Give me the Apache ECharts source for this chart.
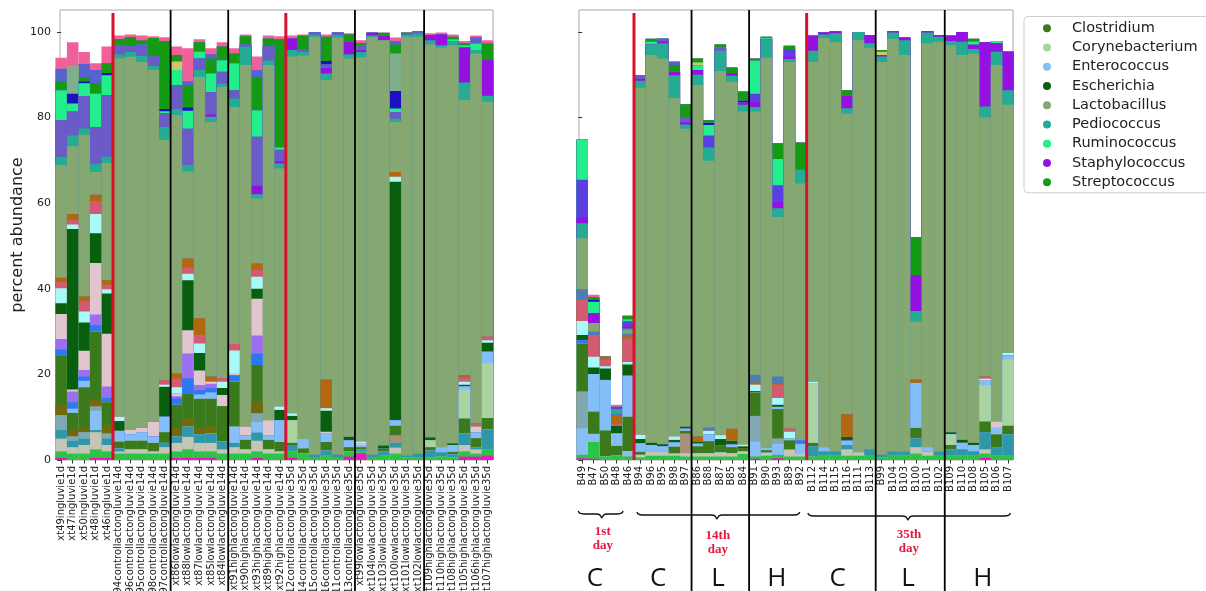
<!DOCTYPE html>
<html>
<head>
<meta charset="utf-8">
<script src="https://cdn.jsdelivr.net/npm/echarts@6/dist/echarts.min.js"></script>
<style>
  html, body { margin: 0; padding: 0; background: #fff; }
  #chart { width: 1206px; height: 591px; }
</style>
</head>
<body>
<div id="chart"></div>
<script>
// ---- sample names (x categories) ----
const leftNames = ['xt49ingluvie1d','xt47ingluvie1d','xt50ingluvie1d','xt48ingluvie1d','xt46ingluvie1d',
  'xt94controllactongluvie14d','xt96controllactongluvie14d','xt95controllactongluvie14d','xt98controllactongluvie14d','xt97controllactongluvie14d',
  'xt86lowlactongluvie14d','xt88lowlactongluvie14d','xt87lowlactongluvie14d','xt85lowlactongluvie14d','xt84lowlactongluvie14d',
  'xt91highlactongluvie14d','xt90highlactongluvie14d','xt93highlactongluvie14d','xt89highlactongluvie14d','xt92highlactongluvie14d',
  'xt112controllactongluvie35d','xt114controllactongluvie35d','xt115controllactongluvie35d','xt116controllactongluvie35d','xt111controllactongluvie35d','xt113controllactongluvie35d',
  'xt99lowlactongluvie35d','xt104lowlactongluvie35d','xt103lowlactongluvie35d','xt100lowlactongluvie35d','xt101lowlactongluvie35d','xt102lowlactongluvie35d',
  'xt109highlactongluvie35d','xt110highlactongluvie35d','xt108highlactongluvie35d','xt105highlactongluvie35d','xt106highlactongluvie35d','xt107highlactongluvie35d'];
const rightNames = ['B49','B47','B50','B48','B46','B94','B96','B95','B98','B97','B86','B88','B87','B85','B84',
  'B91','B90','B93','B89','B92','B112','B114','B115','B116','B111','B113','B99','B104','B103','B100','B101','B102',
  'B109','B110','B108','B105','B106','B107'];
const yTicks = [0, 20, 40, 60, 80, 100];

// ---- percent abundance per taxon, listed bottom to top of each bar (L = left panel, R = right panel) ----
const magentaL = [.5,0,0,.5,.5, 0,0,0,0,0, .5,.5,.5,.5,0, 0,0,.5,0,0, .5,0,0,0,0,.8, 1.5,0,0,0,0,0, 0,0,0,.8,.8,1];
const magentaR = [.4,.3,0,0,0, 0,0,0,0,0, 0,0,0,0,0, .3,0,.4,0,0, 0,0,0,0,0,0, 0,0,0,0,0,0, 0,0,0,.5,0,0];
const limeL = [1.5,1.5,1.5,2,1.5, 1.5,1.5,1.5,1.5,1.5, 1.5,2,1.5,1.5,1.5, 1.5,1.5,1.5,1.5,1.5, 1.5,1.5,.7,1,.5,1.2, .5,.5,1,1.5,.6,.7, .6,.8,.6,1.2,.7,1.5];
const limeR = [.8,3.9,.8,1,.8, .6,1,1,1,.8, .8,.8,.8,.8,1.4, .5,1,.8,.8,.8, .8,1,1,1,1,1, .6,1,1,1.5,1,1, 1,1,1,1,1,1];
const beigeL = [3,1.5,2,4,1.5, .5,1,1,.5,1.5, 2,2.9,2,2,1, 1.5,1,2.5,1,.5, 0,0,0,0,0,0, 0,0,0,1.4,0,0, 0,0,0,1.5,1,0];
const beigeR = [0,0,0,0,0, .6,1,1,.5,.8, .8,.8,1,.8,.6, 0,.7,0,1.6,.8, 0,0,0,1.5,.8,0, 0,0,0,1.5,1,0, 0,0,0,1,0,0];
const tealBlueL = [2,1.5,1.5,.5,1.5, .7,0,0,0,1, 1.5,2.4,2,2.2,1.8, 1,0,1.9,0,0, 1.5,0,.5,1.2,.7,0, .5,.7,1,1.1,.5,.8, 1.6,1,.7,2.7,.4,4.6];
const tealBlueR = [0,0,0,0,0, 0,0,0,0,0, 0,0,0,0,0, 0,0,0,0,0, 2.4,1,1,1,0,1.5, .6,1,1,2,0,1, 1.5,1.5,1,4,2,5];
const skyL = [0,0,0,4.5,0, 0,0,0,0,0, 0,0,0,0,0, 3.8,0,2.5,0,0, 0,0,0,0,0,0, 0,0,0,0,0,0, 0,0,0,0,0,0];
const skyR = [6.2,1.9,0,0,1.3, 0,0,0,0,0, 0,0,0,0,0, 3.5,0,2.6,0,0, 0,0,0,0,0,0, 0,0,0,0,0,0, 0,0,0,0,0,0];
const grayTealL = [3.5,1,1.5,1,1.2, 0,0,0,0,0, 0,0,0,0,0, 0,0,2,0,0, 0,0,0,0,0,0, 0,0,0,0,0,0, 0,0,0,0,0,0];
const grayTealR = [8.6,0,0,0,0, 0,0,0,0,0, 0,0,0,0,0, 6,0,1.2,0,0, 0,0,0,0,0,0, 0,0,0,0,0,0, 0,0,0,0,0,0];
const tanL = [0,0,0,0,0, 0,0,0,0,0, 0,0,0,0,0, 0,0,0,0,0, 0,0,0,0,0,0, 0,0,0,1.8,0,0, 0,0,0,0,0,0];
const tanR = [0,0,0,0,0, 0,0,0,0,4.6, 0,0,0,0,0, 0,0,0,0,0, 0,0,0,0,0,0, 0,0,0,0,0,0, 0,0,0,0,0,0];
const oliveL = [2.4,1.5,1,1.5,2, 0,0,0,0,0, 2,1.9,1.4,1.6,0, 0,0,2.7,0,0, 0,0,0,0,0,0, 0,0,0,0,0,0, 0,0,0,0,0,0];
const oliveR = [0,0,0,0,0, 0,0,0,0,0, 0,0,0,0,0, 0,0,0,0,0, 0,0,0,0,0,0, 0,0,0,0,0,0, 0,0,0,0,0,0];
const clostridiumL = [11.4,4,9.5,16,5.3, 1.6,2,2,2,2.5, 5.4,5.9,6.9,6.5,8.3, 10.5,2.2,8.6,2.2,2.2, .5,1.2,0,2,0,1, .5,0,.6,2.2,0,0, .8,0,.6,3.5,2.2,2.7];
const clostridiumR = [11.2,5.2,6.1,2.3,8, .7,0,0,1.6,.6, 1.6,2.8,1.5,1.4,.8, 5.5,.6,6.9,2.2,0, .8,0,0,0,0,0, 0,0,0,2.5,0,0, 1,0,0,2.5,3,2];
const corynebacteriumL = [0,0,0,0,0, 0,0,0,0,0, 0,0,0,0,0, 0,0,0,0,0, 5.3,0,0,0,0,0, 0,0,0,0,0,0, 1.6,0,0,6.7,0,12.8];
const corynebacteriumR = [0,0,0,0,0, 0,0,0,0,0, 0,0,0,0,0, 0,0,0,0,0, 14,0,0,0,0,0, 0,0,0,0,0,0, 2.5,0,0,8.5,0,15.5];
const enterococcusL = [0,1,1.5,0,0, 2.5,1.5,2,1.5,3.6, 0,0,1,1.5,0, 0,1,0,1.1,5.1, 0,2.2,0,2.1,0,1.6, .5,0,0,1.3,0,0, 0,1.2,1.6,.8,1.3,2.7];
const enterococcusR = [0,8.8,11.8,2.9,9.6, 2,1.5,1.2,1,.5, .6,1.6,0,.6,0, 0,.6,.5,.5,2.2, 0,1,0,1,0,0, 0,0,0,10.5,1,0, 0,1.5,1.5,1,1.5,1];
const blueL = [1.5,1.5,1,1.5,1, 0,0,0,0,0, 1.5,3.5,1,1,0, 1.5,0,2.7,0,0, 0,0,0,0,0,0, 0,0,0,0,0,0, 0,0,0,0,0,0];
const blueR = [.8,0,0,0,0, 0,0,0,0,0, 0,0,0,0,0, 0,0,0,0,.8, 0,0,0,0,0,0, 0,0,0,0,0,0, 0,0,0,0,0,0];
const lavenderL = [2.5,2.5,1.5,2.5,2.7, 0,0,0,0,0, .5,5.8,1.2,1,0, 0,0,4.2,0,0, 0,0,0,0,0,0, 0,0,0,0,0,0, 0,0,0,0,0,0];
const lavenderR = [0,0,0,0,0, 0,0,0,0,0, 0,0,0,0,0, 0,0,0,0,0, 0,0,0,0,0,0, 0,0,0,0,0,0, 0,0,0,0,0,0];
const mistyL = [5.8,.5,4.5,12,12.3, 0,1,1,3.4,0, .6,5.4,3.4,.5,2.6, .5,2.1,8.6,3.5,0, 0,0,0,.3,0,0, .3,0,0,0,0,0, 0,0,0,0,1.4,0];
const mistyR = [0,0,0,0,0, 0,0,0,0,0, 0,0,0,0,0, 0,0,0,0,0, 0,0,0,0,0,0, 0,0,0,0,0,0, 0,0,0,0,1.5,0];
const escherichiaL = [2.5,37.5,6.6,7,9.4, 2.3,0,0,0,7, 0,11.7,4.1,0,1.6, 0,0,2.3,0,2.4, 1,0,0,4.9,0,.8, 0,0,.8,55.7,0,0, .7,0,.4,.4,0,2.1];
const escherichiaR = [1.2,1.5,2.7,1.8,2.6, 1,.5,.5,.6,.5, .4,0,1.6,.9,.4, .3,0,.5,0,0, 0,0,0,.9,0,0, 0,0,0,0,0,0, .5,.7,.5,0,0,0];
const cyanL = [3.5,1,2.6,4.5,1, 1,0,0,0,.5, 1.5,1.5,2.2,0,1.5, 5.3,0,2.8,0,.8, .6,0,0,.6,0,0, .5,0,0,1.2,0,0, 0,0,0,.7,0,.6];
const cyanR = [3.3,2.5,.5,0,.6, 1,0,0,.8,0, 0,.8,.9,0,.4, 1.5,0,1.6,1.5,0, .3,0,0,0,0,0, 0,0,0,0,0,0, 0,0,0,.5,0,.5];
const roseL = [1.5,1,2.5,3,1, 0,0,0,0,1, 2,1.5,2,0,.8, 1.5,0,1.6,0,0, 0,0,0,0,0,0, 0,0,0,0,0,0, 0,0,0,1,.8,.8];
const roseR = [5,5.1,1.5,.5,5.5, 0,0,0,0,0, 0,0,0,0,0, 0,0,3.1,.7,0, 0,0,0,0,0,0, 0,0,0,0,0,0, 0,0,0,.5,0,0];
const orangeL = [1,1.5,1,1.5,1.1, 0,0,0,0,0, 1.2,2.1,3.9,1.2,0, 0,0,1.5,0,0, 0,0,0,6.7,0,0, 0,0,0,1.1,0,0, 0,0,0,.5,0,0];
const orangeR = [0,0,.7,2,.5, 0,0,0,0,0, 1.3,0,0,2.8,0, .5,0,.3,0,0, 0,0,0,5.3,0,0, 0,0,0,.8,0,0, 0,0,0,0,0,0];
const steelL = [0,0,0,0,0, 0,0,0,0,0, 0,0,0,0,0, 0,0,0,0,0, 0,0,0,0,0,0, 0,0,0,0,0,0, 0,0,0,0,0,0];
const steelR = [2.4,.8,0,.4,.6, 0,0,0,0,0, 0,.8,0,0,0, 1.8,0,1.6,0,0, 0,0,0,0,0,0, 0,0,0,0,0,0, 0,0,0,0,0,0];
const lactobacillusL = [26.3,15.8,37.8,5.3,27.4, 83.7,87.2,85.5,82.2,56.2, 60.4,20.3,56.4,59.5,68.1, 55.4,84.5,15.2,83,55.6, 83.4,89.6,97.7,70,97.5,88.4, 89.8,97.6,94.7,11.7,97.8,97.4, 91.8,93.3,93,64.3,86.4,54.9];
const lactobacillusR = [11.9,2,0,0,.8, 81.1,90.6,90.1,79.1,69.6, 82.1,62.3,85.1,81.1,77.8, 61.5,91.1,37.3,85.7,60, 74.7,95.6,95.6,70.2,96.3,93.8, 91.8,96.4,92.6,13.5,94.4,95.7, 90.4,89.9,91,60.5,83.3,58];
const pediococcusL = [2,2.6,1.5,2,1.5, 1,1.2,1.5,1,3, 1.4,1.5,1.6,1.2,.8, 2,4.3,1,1.1,1.2, 1.5,.9,.5,1.5,.6,1, 1.2,.4,0,.8,.5,.8, 1,.6,.8,4.1,.8,1.4];
const pediococcusR = [3.5,0,0,1,.4, 1.6,2.5,3.6,5.3,1, 2.4,3.1,4.8,1.4,1.6, 1.1,4.3,2,.7,3.3, 2.6,.8,2.1,1.3,1.9,1.1, 1.3,1.5,3.5,2.5,2.5,1.2, 1,3.1,1,2.6,3.1,3.4];
const staphylococcusL = [0,0,0,0,0, 0,0,0,0,0, 0,0,0,.5,0, 0,0,2,0,.5, 2.7,0,0,1.3,0,2.9, .5,.6,1,0,0,0, 1.2,2.5,0,8.2,0,8.3];
const staphylococcusR = [1.5,2.3,0,0,.5, .5,0,.4,.8,.5, 1.1,0,0,.6,.5, 1.2,0,1.6,.6,0, 3.5,.5,.5,2.9,0,1.9, .3,.3,.6,8.4,.3,.4, 1.2,2.3,1,15,2,9];
const slateL = [8.5,5.5,7.5,8.5,14.4, 2,1.2,2.5,2.2,3.2, 5.6,8.5,2.7,5.3,2.7, 1.9,.5,11.4,3.2,2.7, 0,.5,.5,.8,.6,0, 1,0,0,1.5,0,.5, 0,0,0,0,0,0];
const slateR = [0,0,0,0,0, .8,0,.6,0,1.1, 0,0,.6,0,0, 0,0,0,0,0, 0,0,0,0,0,0, 0,0,0,0,0,0, 0,0,0,0,0,0];
const blueVioletL = [0,0,0,0,0, 0,0,0,0,0, 0,0,0,0,0, 0,0,0,0,0, 0,0,0,0,0,0, 0,0,0,0,0,0, 0,0,0,0,0,0];
const blueVioletR = [8.7,0,0,.5,1.2, 0,0,0,0,0, 0,2.8,0,0,0, 1.9,0,3.8,1.7,0, 0,0,0,0,0,0, 0,0,0,0,0,0, 0,0,0,0,0,0];
const ruminococcusL = [7,1.9,3,7.8,4.6, 0,0,0,0,.5, 3.5,4.2,1.6,4.3,2.7, 6.3,0,6.2,0,.5, 0,0,0,0,0,0, 0,0,0,.8,0,0, 0,0,.6,.5,1.5,0];
const ruminococcusR = [9.3,2.7,0,0,.5, 0,.6,0,0,0, 1,2.5,0,0,0, 7.7,.3,6.1,0,0, 0,0,0,0,0,0, 0,0,0,0,0,0, 0,0,.8,0,.5,0];
const navyL = [0,2.3,.5,0,.5, 0,0,0,0,.5, 0,.8,0,0,0, 0,0,0,0,0, 0,0,0,.8,0,0, 0,0,0,4.1,0,0, 0,0,0,0,0,0];
const navyR = [0,.5,0,0,0, 0,0,0,0,0, 0,.5,0,0,.5, 0,0,0,0,0, 0,0,0,0,0,0, 0,0,0,0,0,0, 0,0,0,0,0,0];
const sageL = [0,6.4,0,0,0, 0,0,0,0,0, 0,0,0,0,0, 0,0,0,0,0, 0,0,0,0,0,0, 0,0,0,8.7,0,0, 0,0,0,0,0,0];
const sageR = [0,0,0,0,0, 0,0,0,0,0, 0,0,0,0,0, 0,0,0,0,0, 0,0,0,0,0,0, 0,0,0,0,0,0, 0,0,0,0,0,0];
const khakiL = [0,0,0,0,0, 0,0,0,0,0, 2,0,0,0,0, 0,0,0,0,0, 0,0,0,0,0,0, 0,0,0,0,0,0, 0,0,0,0,0,0];
const khakiR = [0,0,0,0,0, 0,0,0,0,0, .8,0,0,0,0, 0,0,0,0,0, 0,0,0,0,0,0, .8,0,0,0,0,0, 0,0,0,0,0,0];
const streptococcusL = [2,0,1,2.5,2.3, 1.5,2.2,1,4.3,15.9, 1.5,5.2,2.2,3.5,3.2, 2.3,1.9,7.8,1.9,25.3, 0,3.2,0,5.7,0,1.7, .6,0,.7,2.2,.5,0, 0,0,.6,.5,0,3.9];
const streptococcusR = [0,.5,0,0,.8, 0,.7,0,1.6,3.1, .9,.6,.8,1.3,2.1, .5,.3,3.7,.8,6.3, 0,0,0,1.3,0,0, .4,0,0,8.9,0,0, 0,0,.6,0,0,0];
const slate2L = [3,0,3,3,0, 0,0,0,0,0, 0,.9,0,1,0, 0,0,1.6,0,0, 0,0,0,0,0,0, 0,0,0,.8,0,0, 0,0,0,0,1.5,0];
const slate2R = [0,0,0,0,0, 0,0,0,.8,0, 0,0,0,0,0, 0,0,0,0,0, 0,0,0,0,0,0, 0,0,0,0,0,0, 0,0,0,0,0,0];
const pinkL = [2.6,5.6,2.8,1.6,3.9, .9,.6,1.2,.4,.9, 2,7.7,.7,1.4,1, 1.2,.4,3.2,.7,.7, .7,.3,0,.5,0,.3, .7,0,0,.8,0,0, .4,.5,.5,.5,.4,.8];
const pinkR = [0,.6,0,.5,0, 0,0,0,0,0, 0,0,0,0,0, 0,0,0,0,0, 0,0,0,0,0,0, 0,0,0,0,0,0, 0,0,0,0,0,0];

const legendNames = ['Clostridium','Corynebacterium','Enterococcus','Escherichia','Lactobacillus',
  'Pediococcus','Ruminococcus','Staphylococcus','Streptococcus'];

// stack order, bottom first
const stackOrder = [
  ['minor A', magentaL, magentaR],
  ['minor B', limeL, limeR],
  ['minor C', beigeL, beigeR],
  ['minor D', tealBlueL, tealBlueR],
  ['minor E', skyL, skyR],
  ['minor F', grayTealL, grayTealR],
  ['minor G', tanL, tanR],
  ['minor H', oliveL, oliveR],
  ['Clostridium', clostridiumL, clostridiumR],
  ['Corynebacterium', corynebacteriumL, corynebacteriumR],
  ['Enterococcus', enterococcusL, enterococcusR],
  ['minor I', blueL, blueR],
  ['minor J', lavenderL, lavenderR],
  ['minor K', mistyL, mistyR],
  ['Escherichia', escherichiaL, escherichiaR],
  ['minor L', cyanL, cyanR],
  ['minor M', roseL, roseR],
  ['minor N', orangeL, orangeR],
  ['minor O', steelL, steelR],
  ['Lactobacillus', lactobacillusL, lactobacillusR],
  ['Pediococcus', pediococcusL, pediococcusR],
  ['Staphylococcus', staphylococcusL, staphylococcusR],
  ['minor P', slateL, slateR],
  ['minor Q', blueVioletL, blueVioletR],
  ['Ruminococcus', ruminococcusL, ruminococcusR],
  ['minor R', navyL, navyR],
  ['minor S', sageL, sageR],
  ['minor T', khakiL, khakiR],
  ['Streptococcus', streptococcusL, streptococcusR],
  ['minor U', slate2L, slate2R],
  ['minor V', pinkL, pinkR]
];

const palette = {
  'minor A': '#ee14c8', 'minor B': '#2cc445', 'minor C': '#c4c5b5', 'minor D': '#2f98a8',
  'minor E': '#88bff5', 'minor F': '#80a8b2', 'minor G': '#a8907a', 'minor H': '#716a0c',
  'Clostridium': '#3b7a1c', 'Corynebacterium': '#a9d4a1', 'Enterococcus': '#84bef8',
  'minor I': '#2b78f0', 'minor J': '#9c6ff0', 'minor K': '#e2c6cf', 'Escherichia': '#08600f',
  'minor L': '#a8faf8', 'minor M': '#d25a72', 'minor N': '#b2680e', 'minor O': '#4e7db4',
  'Lactobacillus': '#85a873', 'Pediococcus': '#24ad93', 'Staphylococcus': '#9411e2',
  'minor P': '#6b5bc6', 'minor Q': '#5b3ee4', 'Ruminococcus': '#22ef8b', 'minor R': '#1a12c0',
  'minor S': '#7fae8e', 'minor T': '#cdc66e', 'Streptococcus': '#159a14', 'minor U': '#5563d0',
  'minor V': '#f2609c'
};

// group boundaries between sample groups (shared by both panels)
const dayBreaks = [4.5, 19.5];
const doseBreaks = [9.5, 14.5, 25.5, 31.5];

const FONT = 'DejaVu Sans';
const idx = leftNames.map((_, i) => i);
const Y_MAX = 105.14;

// Running tops of each stacked segment; every segment is drawn from the
// baseline up to its top, with lower segments painted over the higher ones.
function runningTops(col) {
  const tops = [];
  const acc = col(stackOrder[0]).map(() => 0);
  stackOrder.forEach(entry => {
    const vals = col(entry);
    tops.push(vals.map((v, i) => (acc[i] += v)));
  });
  return tops;
}
const topsL = runningTops(e => e[1]);
const topsR = runningTops(e => e[2]);

function xAxisFor(grid, names, min, max) {
  return {
    type: 'value', gridIndex: grid, min: min, max: max,
    axisLine: { show: false },
    splitLine: { show: false },
    axisTick: { show: true, customValues: idx, length: 3.5, lineStyle: { color: '#333', width: 1 } },
    axisLabel: {
      customValues: idx, rotate: 90, margin: 6, fontSize: 10, fontFamily: FONT, color: '#222',
      formatter: v => names[Math.round(v)]
    }
  };
}
function yAxisFor(grid, withLabels) {
  return {
    type: 'value', gridIndex: grid, min: 0, max: Y_MAX,
    axisLine: { show: false },
    splitLine: { show: false },
    axisTick: { show: true, customValues: yTicks, length: 4, lineStyle: { color: '#333', width: 1 } },
    axisLabel: { show: withLabels, customValues: yTicks, margin: 9, fontSize: 11, fontFamily: FONT, color: '#222' },
    name: withLabels ? 'percent abundance' : '',
    nameLocation: 'middle', nameGap: 33, nameRotate: 90,
    nameTextStyle: { fontSize: 16, fontFamily: FONT, color: '#222' }
  };
}

const series = [];
for (let k = stackOrder.length - 1; k >= 0; k--) {
  const name = stackOrder[k][0];
  const common = {
    type: 'bar', name: name, barGap: '-100%',
    itemStyle: { color: palette[name], borderWidth: 0 },
    emphasis: { disabled: true }, silent: true, clip: true
  };
  series.push(Object.assign({}, common, {
    xAxisIndex: 0, yAxisIndex: 0, barWidth: 11.52,
    data: topsL[k].map((v, i) => [i, v])
  }));
  series.push(Object.assign({}, common, {
    xAxisIndex: 1, yAxisIndex: 1, barWidth: 11.51,
    data: topsR[k].map((v, i) => [i, v])
  }));
}

// legend marker: a dot centred in a 40px-wide slot
const LEGEND_DOT = 'path://M0,4L0,4.001ZM40,4L40,4.001ZM24,4A4,4,0,1,1,16,4A4,4,0,1,1,24,4Z';

const option = {
  animation: false,
  backgroundColor: '#ffffff',
  grid: [
    { left: 60, top: 10, width: 433, height: 450, show: true, borderColor: '#a8a8a8', borderWidth: 1,
      backgroundColor: 'transparent', containLabel: false, outerBoundsMode: 'none' },
    { left: 579, top: 10, width: 434, height: 450, show: true, borderColor: '#a8a8a8', borderWidth: 1,
      backgroundColor: 'transparent', containLabel: false, outerBoundsMode: 'none' }
  ],
  xAxis: [xAxisFor(0, leftNames, -0.1, 37.48), xAxisFor(1, rightNames, -0.28, 37.43)],
  yAxis: [yAxisFor(0, true), yAxisFor(1, false)],
  legend: {
    data: legendNames.map(n => ({ name: n, icon: LEGEND_DOT })),
    orient: 'vertical', left: 1024, top: 16.5,
    itemWidth: 40, itemHeight: 8, itemGap: 0, symbolKeepAspect: false,
    padding: [2, 14, 1, 3], borderColor: '#cfcfcf', borderWidth: 1, borderRadius: 4,
    backgroundColor: '#fff', selectedMode: false,
    textStyle: { fontSize: 14.5, fontFamily: FONT, color: '#222', lineHeight: 19.25 }
  },
  series: series
};

const chart = echarts.init(document.getElementById('chart'), null, { renderer: 'canvas' });
chart.setOption(option);

// ---- group separators, braces and group captions ----
const xL = v => chart.convertToPixel({ xAxisIndex: 0 }, v);
const xR = v => chart.convertToPixel({ xAxisIndex: 1 }, v);
const plotTop = chart.convertToPixel({ yAxisIndex: 0 }, Y_MAX);
const plotBottom = chart.convertToPixel({ yAxisIndex: 0 }, 0);
const pageBottom = 591;

const RED = '#d8112d';
const gfx = [];
[xL, xR].forEach(toPx => {
  dayBreaks.forEach(b => {
    const x = toPx(b);
    gfx.push({ type: 'line', z: 100, shape: { x1: x, y1: plotTop + 3, x2: x, y2: plotBottom },
      style: { stroke: RED, lineWidth: 3 } });
  });
  doseBreaks.forEach(b => {
    const x = toPx(b);
    gfx.push({ type: 'line', z: 100, shape: { x1: x, y1: plotTop, x2: x, y2: pageBottom },
      style: { stroke: '#000', lineWidth: 1.8 } });
  });
});

// curly braces under the right panel sample names, with day captions
const braces = [
  { from: -0.35, to: 3.55, tip: 1.7, y: 514, lines: ['1st', 'day'], ty: 532 },
  { from: 4.75, to: 18.9, tip: 11.7, y: 515, lines: ['14th', 'day'], ty: 536 },
  { from: 19.6, to: 37.2, tip: 28.3, y: 516, lines: ['35th', 'day'], ty: 535 }
];
braces.forEach(b => {
  const a = xR(b.from), c = xR(b.to), m = xR(b.tip), y = b.y;
  const pts = [[a, y - 3], [a + 1.5, y - 0.8], [a + 6, y], [m - 6, y], [m - 2, y + 0.8], [m, y + 4],
               [m + 2, y + 0.8], [m + 6, y], [c - 6, y], [c - 1.5, y - 0.8], [c, y - 3]];
  gfx.push({ type: 'polyline', z: 100, shape: { points: pts, smooth: 0.25 },
    style: { stroke: '#111', fill: null, lineWidth: 1.4 } });
  b.lines.forEach((t, k) => {
    gfx.push({ type: 'text', z: 100, x: m + 1, y: b.ty + k * 14,
      style: { text: t, fill: '#e3163c', font: 'bold 13px "Liberation Serif"', align: 'center', verticalAlign: 'middle' } });
  });
});

// treatment letters along the bottom of the right panel
const groupLetters = [
  { at: 1.1, t: 'C' }, { at: 6.6, t: 'C' }, { at: 11.8, t: 'L' }, { at: 16.9, t: 'H' },
  { at: 22.2, t: 'C' }, { at: 28.3, t: 'L' }, { at: 34.8, t: 'H' }
];
groupLetters.forEach(g => {
  gfx.push({ type: 'text', z: 100, x: xR(g.at), y: 579,
    style: { text: g.t, fill: '#111', font: '26px "Open Sans"', align: 'center', verticalAlign: 'middle' } });
});

chart.setOption({ graphic: gfx });
</script>
</body>
</html>
